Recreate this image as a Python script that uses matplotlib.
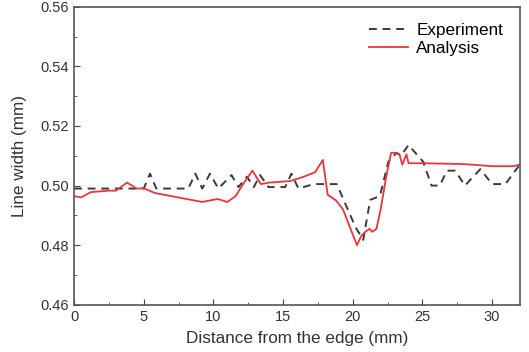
import matplotlib
matplotlib.use("Agg")
import matplotlib.pyplot as plt
from matplotlib.ticker import MultipleLocator

# данные
exp_x = [0, 5.0, 5.45, 5.9, 8.2, 8.7, 9.2, 9.75, 10.35, 11.3, 11.8, 12.4, 12.9,
         13.35, 13.95, 15.15, 15.6, 16.1, 17.2, 18.85, 20.2, 20.75, 21.25, 21.95,
         22.55, 23.15, 23.45, 24.0, 25.05, 25.65, 26.25, 26.75, 27.35, 28.05,
         29.15, 30.0, 30.95, 31.9]
exp_y = [0.499, 0.499, 0.504, 0.499, 0.499, 0.504, 0.499, 0.504, 0.499, 0.5035,
         0.4995, 0.503, 0.4995, 0.5035, 0.4995, 0.4995, 0.504, 0.499, 0.5005,
         0.5005, 0.486, 0.4818, 0.4952, 0.4965, 0.508, 0.511, 0.510, 0.5136,
         0.508, 0.500, 0.500, 0.505, 0.505, 0.500, 0.5055, 0.5005, 0.5005, 0.5065]

ana_x = [0, 0.5, 1.2, 2.5, 3.0, 3.8, 4.5, 5.0, 5.8, 7.5, 9.2, 10.3, 11.0, 11.6,
         12.2, 12.8, 13.4, 14.0, 15.5, 16.5, 17.3, 17.85, 18.2, 18.8, 19.3, 20.3,
         20.6, 20.9, 21.2, 21.4, 21.7, 22.0, 22.4, 22.75, 23.1, 23.35, 23.55,
         23.85, 24.0, 25.0, 28.0, 30.0, 31.5, 32.0]
ana_y = [0.4965, 0.496, 0.4978, 0.4983, 0.4983, 0.501, 0.499, 0.4991, 0.4975,
         0.496, 0.4945, 0.4955, 0.4945, 0.4965, 0.501, 0.505, 0.5005, 0.501,
         0.5015, 0.503, 0.5045, 0.5086, 0.4969, 0.495, 0.492, 0.480, 0.483,
         0.4845, 0.4855, 0.4845, 0.4855, 0.492, 0.503, 0.511, 0.511, 0.5105,
         0.507, 0.5105, 0.5075, 0.5075, 0.5072, 0.5065, 0.5065, 0.507]

plt.rcParams["font.family"] = ["Liberation Sans", "DejaVu Sans"]

fig = plt.figure(figsize=(5.29, 3.52), dpi=100)
ax = fig.add_axes([0.14, 0.134, 0.843, 0.847])

ax.plot(exp_x, exp_y, color="#3a3a3a", linestyle=(0, (4, 3)), linewidth=1.4,
        label="Experiment")
ax.plot(ana_x, ana_y, color="#e8363c", linewidth=1.3, label="Analysis")

ax.set_xlim(0, 32)
ax.set_ylim(0.46, 0.56)
ax.xaxis.set_major_locator(MultipleLocator(5))
ax.xaxis.set_minor_locator(MultipleLocator(2.5))
ax.yaxis.set_major_locator(MultipleLocator(0.02))
ax.yaxis.set_minor_locator(MultipleLocator(0.01))
ax.yaxis.set_major_formatter(plt.FormatStrFormatter("%.2f"))
ax.tick_params(which="both", direction="in", colors="#444444", labelsize=10.5,
               labelcolor="#333333")
ax.tick_params(which="major", length=4)
ax.tick_params(which="minor", length=2)
for s in ax.spines.values():
    s.set_color("#555555")
    s.set_linewidth(1.2)

ax.set_xlabel("Distance from the edge (mm)", fontsize=12.3, color="#333333",
              labelpad=5)
ax.set_ylabel("Line width (mm)", fontsize=12.3, color="#333333", labelpad=10)
ax.legend(loc="upper left", frameon=False, fontsize=12.3, handlelength=2.3,
          handletextpad=0.5, labelspacing=0.15, borderaxespad=0,
          bbox_to_anchor=(0.645, 0.967))

fig.savefig("out.png", dpi=100)
